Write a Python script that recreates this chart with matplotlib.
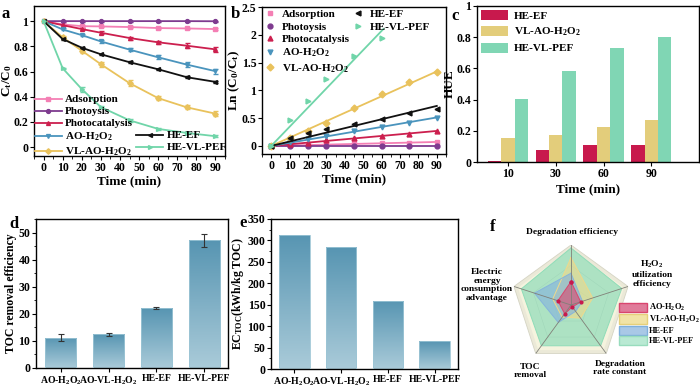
import numpy as np
import matplotlib
matplotlib.use('Agg')
import matplotlib.pyplot as plt
from matplotlib.ticker import FuncFormatter, MultipleLocator
from matplotlib.colors import LinearSegmentedColormap
from matplotlib.lines import Line2D
from matplotlib.patches import Patch

plt.rcParams['font.family'] = 'Liberation Serif'
plt.rcParams['font.weight'] = 'bold'
plt.rcParams['axes.labelweight'] = 'bold'
plt.rcParams['mathtext.fontset'] = 'custom'
plt.rcParams['mathtext.rm'] = 'Liberation Serif:bold'
plt.rcParams['mathtext.it'] = 'Liberation Serif:bold:italic'
plt.rcParams['mathtext.bf'] = 'Liberation Serif:bold'
plt.rcParams['axes.linewidth'] = 1.0
plt.rcParams['xtick.direction'] = 'out'
plt.rcParams['ytick.direction'] = 'out'
plt.rcParams['xtick.major.size'] = 3
plt.rcParams['ytick.major.size'] = 3
plt.rcParams['xtick.minor.size'] = 1.8
plt.rcParams['ytick.minor.size'] = 1.8
plt.rcParams['xtick.major.pad'] = 1.5
plt.rcParams['ytick.major.pad'] = 1.0
plt.rcParams['xtick.labelsize'] = 8.5
plt.rcParams['ytick.labelsize'] = 8.5

# ---------------- data ----------------
time = [0, 10, 20, 30, 45, 60, 75, 90]
series = ['Adsorption', 'Photoysis', 'Photocatalysis', 'AO-H$_2$O$_2$',
          'VL-AO-H$_2$O$_2$', 'HE-EF', 'HE-VL-PEF']
colors = ['#f47fb4', '#7e3b8f', '#cc1f4e', '#4a94bd', '#e9c25c', '#111111', '#70d5a9']
markers = ['s', 'o', '^', 'v', 'D', '<', '>']

# panel a: Ct/C0
ct_ads = [1, 0.974, 0.960, 0.958, 0.953, 0.945, 0.942, 0.937]
ct_photo = [1, 1, 1, 1, 1, 1, 1, 0.999]
ct_pcat = [1, 0.968, 0.937, 0.908, 0.866, 0.832, 0.805, 0.776]
ct_ao = [1, 0.934, 0.889, 0.839, 0.774, 0.713, 0.655, 0.603]
ct_vl = [1, 0.871, 0.766, 0.658, 0.508, 0.389, 0.316, 0.266]
ct_heef = [1, 0.858, 0.789, 0.737, 0.674, 0.618, 0.555, 0.518]
ct_pef = [1, 0.626, 0.461, 0.318, 0.213, 0.145, 0.113, 0.087]
err_ads = [0, 0.005, 0.006, 0.006, 0.006, 0.006, 0.006, 0.006]
err_photo = [0, 0.003, 0.003, 0.003, 0.003, 0.003, 0.003, 0.003]
err_pcat = [0, 0.008, 0.010, 0.012, 0.012, 0.012, 0.020, 0.020]
err_ao = [0, 0.008, 0.010, 0.010, 0.012, 0.015, 0.020, 0.020]
err_vl = [0, 0.010, 0.015, 0.020, 0.025, 0.015, 0.015, 0.020]
err_heef = [0, 0.008, 0.006, 0.006, 0.006, 0.006, 0.006, 0.006]
err_pef = [0, 0.006, 0.020, 0.010, 0.010, 0.006, 0.006, 0.010]

# panel b: Ln(C0/Ct)
ln_ads = [0, 0.02, 0.03, 0.04, 0.05, 0.06, 0.06, 0.07]
ln_photo = [0, 0, 0, 0, 0, 0, 0, 0]
ln_pcat = [0, 0.03, 0.06, 0.10, 0.14, 0.18, 0.22, 0.26]
ln_ao = [0, 0.07, 0.12, 0.17, 0.26, 0.34, 0.42, 0.51]
ln_vl = [0, 0.14, 0.27, 0.42, 0.68, 0.94, 1.15, 1.33]
ln_heef = [0, 0.15, 0.24, 0.31, 0.39, 0.48, 0.60, 0.66]
time_pef = [0, 10, 20, 30, 45, 60]
ln_pef = [0, 0.47, 0.81, 1.21, 1.61, 1.95]
rate_k = [0.0008, 0.0, 0.0030, 0.0057, 0.0149, 0.0080, 0.0345]
fit_end = [90, 90, 90, 90, 90, 90, 61]

# panel c: HUE
hue_time = ['10', '30', '60', '90']
hue_heef = [0.005, 0.08, 0.11, 0.11]
hue_vl = [0.155, 0.17, 0.225, 0.27]
hue_pef = [0.405, 0.585, 0.73, 0.80]

# panel d / e
proc = ['AO-H$_2$O$_2$', 'AO-VL-H$_2$O$_2$', 'HE-EF', 'HE-VL-PEF']
toc = [11.2, 12.4, 22.1, 47.1]
toc_err = [1.4, 0.5, 0.5, 2.3]
ec_toc = [313, 284, 159, 65]

# panel f: radar (normalised)
radar_labels = ['Degradation efficiency', 'H$_2$O$_2$\nutilization\nefficiency',
                'Degradation\nrate constant', 'TOC\nremoval',
                'Electric\nenergy\nconsumption\nadvantage']
r_ao = [0.39, 0.17, 0.04, 0.18, 0.23]
r_vl = [0.79, 0.38, 0.27, 0.25, 0.32]
r_heef = [0.53, 0.20, 0.13, 0.36, 0.64]
r_pef = [0.95, 0.89, 0.84, 0.84, 0.87]

W, H = 700, 390
fig = plt.figure(figsize=(7, 3.9), dpi=100)


def rect(l, t, r, b):
    return [l / W, 1 - b / H, (r - l) / W, (b - t) / H]


fmt_g = FuncFormatter(lambda v, p: f'{v:g}')

# ---------------- a ----------------
ax = fig.add_axes(rect(34, 6, 225, 156))
cts = [ct_ads, ct_photo, ct_pcat, ct_ao, ct_vl, ct_heef, ct_pef]
errs = [err_ads, err_photo, err_pcat, err_ao, err_vl, err_heef, err_pef]
handles = []
for i in range(len(series)):
    h = ax.errorbar(time, cts[i], yerr=errs[i], color=colors[i], marker=markers[i],
                    ms=2.8, lw=1.3, elinewidth=0.8, capsize=1.8, label=series[i])
    handles.append(h[0])
ax.set_xlim(-5, 95)
ax.set_ylim(-0.07, 1.12)
ax.xaxis.set_major_locator(MultipleLocator(10))
ax.xaxis.set_minor_locator(MultipleLocator(5))
ax.yaxis.set_major_locator(MultipleLocator(0.2))
ax.yaxis.set_major_formatter(fmt_g)
ax.set_xlabel('Time (min)', fontsize=9.5, labelpad=1)
ax.set_ylabel('C$_\\mathrm{t}$/C$_0$', fontsize=9.5, labelpad=0)
blank = Line2D([], [], alpha=0)
hl = handles[:5] + [blank, blank, blank] + handles[5:]
ll = series[:5] + ['', '', ''] + series[5:]
ax.legend(hl, ll, ncol=2, loc='lower left', bbox_to_anchor=(0.0, -0.02), frameon=False,
          fontsize=8, handlelength=2.4, handletextpad=0.3, columnspacing=0.3,
          labelspacing=0.2, borderaxespad=0, borderpad=0.1)

# ---------------- b ----------------
ax = fig.add_axes(rect(262, 7, 446, 154))
lns = [ln_ads, ln_photo, ln_pcat, ln_ao, ln_vl, ln_heef, ln_pef]
bh = []
for i in range(len(series)):
    tt = time_pef if i == 6 else time
    h, = ax.plot(tt, lns[i], ls='none', marker=markers[i], ms=3.5, color=colors[i],
                 label=series[i])
    bh.append(h)
    ax.plot([0, fit_end[i]], [0, rate_k[i] * fit_end[i]], color=colors[i], lw=1.3)
ax.set_xlim(-5, 95)
ax.set_ylim(-0.145, 2.5)
ax.xaxis.set_major_locator(MultipleLocator(10))
ax.xaxis.set_minor_locator(MultipleLocator(5))
ax.yaxis.set_major_locator(MultipleLocator(0.5))
ax.yaxis.set_major_formatter(fmt_g)
ax.set_xlabel('Time (min)', fontsize=9.5, labelpad=1)
ax.set_ylabel('Ln (C$_0$/C$_\\mathrm{t}$)', fontsize=9.5, labelpad=0)
hl = bh + [blank, blank, blank]
ll = series + ['', '', '']
ax.legend(hl, ll, ncol=2, loc='upper left', bbox_to_anchor=(0.0, 1.0), frameon=False,
          fontsize=8, handlelength=1.0, handletextpad=0.6, columnspacing=0.2,
          labelspacing=0.25, borderaxespad=0.1, borderpad=0.1)

# ---------------- c ----------------
ax = fig.add_axes(rect(477, 6, 699, 162))
xc = np.arange(len(hue_time))
bw = 0.28
ax.bar(xc - bw, hue_heef, bw, color='#c8194d', label='HE-EF')
ax.bar(xc, hue_vl, bw, color='#e3cd7b', label='VL-AO-H$_2$O$_2$')
ax.bar(xc + bw, hue_pef, bw, color='#80d6b4', label='HE-VL-PEF')
ax.set_xlim(-0.65, 4.0)
ax.set_ylim(0, 1)
ax.set_xticks(xc)
ax.set_xticklabels(hue_time)
ax.yaxis.set_major_locator(MultipleLocator(0.2))
ax.yaxis.set_major_formatter(fmt_g)
ax.set_xlabel('Time (min)', fontsize=9.5, labelpad=2)
ax.set_ylabel('HUE', fontsize=9.5, labelpad=1)
ax.legend(loc='upper left', frameon=False, fontsize=8, handlelength=2.4,
          handleheight=1.0, handletextpad=0.5, labelspacing=0.4,
          borderaxespad=0.2, borderpad=0.2)

# ---------------- d / e gradient bars ----------------
cmap = LinearSegmentedColormap.from_list('tealgrad', ['#aacbd9', '#5795b2'])


def grad_bars(ax, heights, width=0.65):
    xs = np.arange(len(heights))
    bars = ax.bar(xs, heights, width, color='none', edgecolor='#9cc5d5', lw=0.6, zorder=3)
    grad = np.linspace(1, 0, 256).reshape(-1, 1)
    for b in bars:
        x0, y0 = b.get_x(), b.get_y()
        im = ax.imshow(grad, extent=[x0, x0 + b.get_width(), y0, y0 + b.get_height()],
                       cmap=cmap, aspect='auto', zorder=2, interpolation='bicubic')
        im.set_clip_path(b)
    return xs


ax = fig.add_axes(rect(36, 219, 228, 368))
xs = grad_bars(ax, toc)
ax.errorbar(xs, toc, yerr=toc_err, fmt='none', ecolor='#333333', elinewidth=0.8,
            capsize=2, capthick=0.8, zorder=4)
ax.set_xlim(-0.52, 3.5)
ax.set_ylim(0, 55)
ax.set_xticks(xs)
ax.set_xticklabels(proc, fontsize=7)
ax.yaxis.set_major_locator(MultipleLocator(10))
ax.yaxis.set_minor_locator(MultipleLocator(5))
ax.set_ylabel('TOC removal efficiency', fontsize=8.5, labelpad=1)

ax = fig.add_axes(rect(271, 219, 458, 369))
xs = grad_bars(ax, ec_toc)
ax.set_xlim(-0.5, 3.5)
ax.set_ylim(0, 350)
ax.set_xticks(xs)
ax.set_xticklabels(proc, fontsize=7)
ax.yaxis.set_major_locator(MultipleLocator(50))
ax.yaxis.set_minor_locator(MultipleLocator(25))
ax.set_ylabel('EC$_\\mathrm{TOC}$(kWh/kg TOC)', fontsize=8.5, labelpad=1)

# ---------------- f radar ----------------
ax = fig.add_axes(rect(511, 245, 631, 365), projection='polar')
ax.set_theta_offset(np.pi / 2)
ax.set_theta_direction(-1)
ang = np.arange(len(radar_labels)) * 2 * np.pi / len(radar_labels)
angc = np.append(ang, ang[0])
ax.fill(angc, [1.0] * 6, facecolor='#ebe9d8', edgecolor='#d5d4c4', lw=0.6, zorder=0)
ax.fill(angc, [0.93] * 6, facecolor='#f5f3de', edgecolor='none', zorder=0)
for rr in [0.33, 0.66]:
    ax.plot(angc, [rr] * 6, color='#c9c9bf', lw=0.4, zorder=1)
radar_sets = [(r_pef, '#8fdcb8', 0.7), (r_vl, '#efd98a', 0.6),
              (r_heef, '#86b5dc', 0.65), (r_ao, '#d9456e', 0.6)]
for vals, col, a in radar_sets:
    vc = np.append(vals, vals[0])
    ax.fill(angc, vc, facecolor=col, alpha=a, edgecolor='none', zorder=2)
    ax.plot(angc, vc, color=col, lw=0.7, zorder=3)
vc = np.append(r_ao, r_ao[0])
ax.plot(angc, vc, ls='none', marker='o', ms=2, color='#c8194d', zorder=4)
for a_ in ang:
    ax.plot([a_, a_], [0, 1.0], color='#808078', lw=0.6, zorder=3)
ax.set_ylim(0, 1)
ax.axis('off')

lab_pos = [(572, 232), (652, 273), (620, 368), (530, 371), (487, 285)]
for (px, py), t in zip(lab_pos, radar_labels):
    fig.text(px / W, 1 - py / H, t, ha='center', va='center', fontsize=6.8,
             linespacing=1.15)

fh = [Patch(facecolor='#e07b9a', edgecolor='#d9456e'),
      Patch(facecolor='#f1e3a6', edgecolor='#e6d07a'),
      Patch(facecolor='#a9c8e6', edgecolor='#7fb0dc'),
      Patch(facecolor='#b9e9d3', edgecolor='#98dcbd')]
fig.legend(fh, ['AO-H$_2$O$_2$', 'VL-AO-H$_2$O$_2$', 'HE-EF', 'HE-VL-PEF'],
           loc='upper left', bbox_to_anchor=(619 / W, 1 - 302 / H), frameon=False,
           fontsize=6.0, handlelength=3.3, handleheight=1.35, handletextpad=0.25,
           labelspacing=0.08, borderpad=0, borderaxespad=0)

# panel letters
for letter, (px, py) in zip('abcdef', [(6, 14), (235, 14), (455, 16), (14, 224),
                                        (243, 223), (493, 227)]):
    fig.text(px / W, 1 - py / H, letter, ha='center', va='center', fontsize=12,
             fontweight='bold')

fig.savefig('out.png', dpi=100)
